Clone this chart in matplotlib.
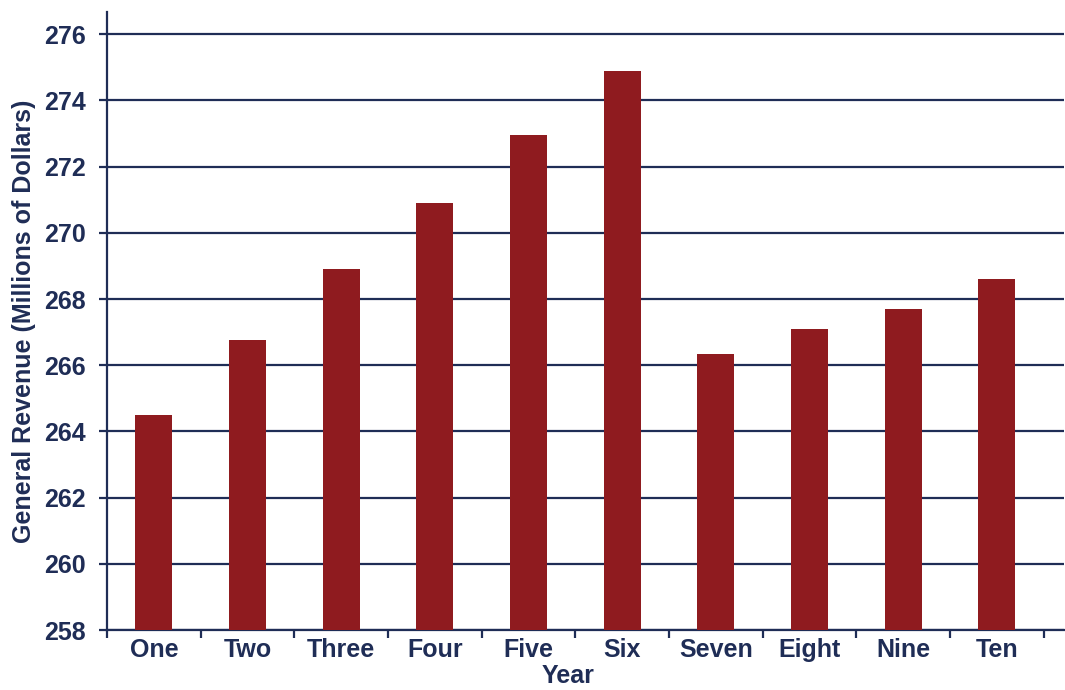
import numpy as np
import matplotlib
matplotlib.use("Agg")
import matplotlib.pyplot as plt

years = ["One", "Two", "Three", "Four", "Five", "Six", "Seven", "Eight", "Nine", "Ten"]
revenue = [264.5, 266.75, 268.9, 270.9, 272.95, 274.9, 266.35, 267.1, 267.7, 268.6]
y_ticks = [258, 260, 262, 264, 266, 268, 270, 272, 274, 276]

navy = "#1f2d56"
bar_red = "#8f1b1f"

plt.rcParams["font.family"] = ["Liberation Sans", "DejaVu Sans"]
plt.rcParams["font.weight"] = "bold"

fig = plt.figure(figsize=(10.65, 6.9), dpi=100)
ax = fig.add_axes([107 / 1065, 60 / 690, (1064 - 107) / 1065, 618 / 690])

x = np.arange(len(years))
ax.bar(x, revenue, width=0.395, color=bar_red, zorder=3)

ax.set_ylim(258, 258 + 618 / 33.1)
ax.set_xlim(-0.496, 9.717)
ax.set_yticks(y_ticks)
ax.yaxis.grid(True, color=navy, lw=1.6, zorder=0)
ax.set_axisbelow(True)

ax.set_xticks(x)
ax.set_xticklabels(years)
ax.set_xticks(np.arange(-0.5, 10, 1), minor=True)
ax.tick_params(axis="x", which="major", length=0, pad=6, labelsize=18, labelcolor=navy)
ax.tick_params(axis="x", which="minor", length=6, width=1.6, color=navy)
ax.tick_params(axis="y", length=6, width=1.6, color=navy, pad=9, labelsize=18, labelcolor=navy)

for s in ["top", "right"]:
    ax.spines[s].set_visible(False)
for s in ["left", "bottom"]:
    ax.spines[s].set_color(navy)
    ax.spines[s].set_linewidth(1.6)

ax.set_ylabel("General Revenue (Millions of Dollars)", fontsize=18, color=navy,
              fontweight="bold", labelpad=6)
fig.text(568 / 1065, 2 / 690, "Year", ha="center", va="bottom",
         fontsize=18, color=navy, fontweight="bold")

fig.savefig("out.png", dpi=100)
